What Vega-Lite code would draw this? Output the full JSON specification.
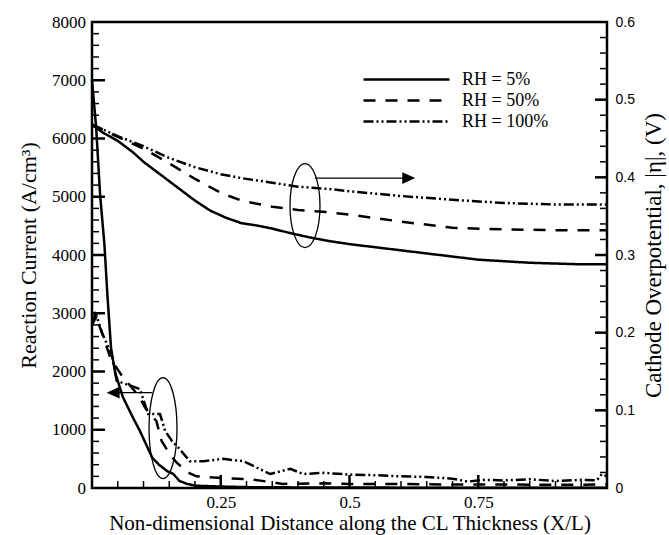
{
  "$schema": "https://vega.github.io/schema/vega-lite/v6.json",
  "width": 515,
  "height": 466,
  "autosize": {"type": "none"},
  "padding": {"left": 92, "top": 22, "right": 62, "bottom": 47},
  "background": "white",
  "config": {
    "view": {"stroke": "black", "strokeWidth": 2.5},
    "font": "Liberation Serif",
    "axis": {"domain": false, "grid": false, "ticks": false, "labelColor": "black", "titleColor": "black", "titleFontWeight": "normal", "labelOverlap": false, "labelFlush": false}
  },
  "resolve": {"scale": {"y": "independent"}},
  "layer": [
    {
      "layer": [
        {
          "data": {"values": [
            {"x": 0, "rh": "RH = 5%", "j": 7000}, {"x": 0.008, "rh": "RH = 5%", "j": 6200}, {"x": 0.016, "rh": "RH = 5%", "j": 5000}, {"x": 0.024, "rh": "RH = 5%", "j": 4200}, {"x": 0.03, "rh": "RH = 5%", "j": 3300}, {"x": 0.037, "rh": "RH = 5%", "j": 2400}, {"x": 0.045, "rh": "RH = 5%", "j": 1980}, {"x": 0.06, "rh": "RH = 5%", "j": 1560}, {"x": 0.08, "rh": "RH = 5%", "j": 1200}, {"x": 0.093, "rh": "RH = 5%", "j": 980}, {"x": 0.105, "rh": "RH = 5%", "j": 750}, {"x": 0.117, "rh": "RH = 5%", "j": 520}, {"x": 0.13, "rh": "RH = 5%", "j": 400}, {"x": 0.146, "rh": "RH = 5%", "j": 290}, {"x": 0.158, "rh": "RH = 5%", "j": 240}, {"x": 0.17, "rh": "RH = 5%", "j": 120}, {"x": 0.185, "rh": "RH = 5%", "j": 70}, {"x": 0.2, "rh": "RH = 5%", "j": 40}, {"x": 0.25, "rh": "RH = 5%", "j": 25}, {"x": 0.3, "rh": "RH = 5%", "j": 15}, {"x": 0.4, "rh": "RH = 5%", "j": 10}, {"x": 0.5, "rh": "RH = 5%", "j": 8}, {"x": 0.6, "rh": "RH = 5%", "j": 6}, {"x": 0.7, "rh": "RH = 5%", "j": 5}, {"x": 0.8, "rh": "RH = 5%", "j": 5}, {"x": 0.9, "rh": "RH = 5%", "j": 5}, {"x": 1.0, "rh": "RH = 5%", "j": 5},
            {"x": 0, "rh": "RH = 50%", "j": 2800}, {"x": 0.006, "rh": "RH = 50%", "j": 2980}, {"x": 0.02, "rh": "RH = 50%", "j": 2650}, {"x": 0.035, "rh": "RH = 50%", "j": 2250}, {"x": 0.045, "rh": "RH = 50%", "j": 2100}, {"x": 0.06, "rh": "RH = 50%", "j": 1900}, {"x": 0.075, "rh": "RH = 50%", "j": 1750}, {"x": 0.093, "rh": "RH = 50%", "j": 1550}, {"x": 0.103, "rh": "RH = 50%", "j": 1380}, {"x": 0.115, "rh": "RH = 50%", "j": 1250}, {"x": 0.125, "rh": "RH = 50%", "j": 1150}, {"x": 0.135, "rh": "RH = 50%", "j": 810}, {"x": 0.151, "rh": "RH = 50%", "j": 580}, {"x": 0.165, "rh": "RH = 50%", "j": 430}, {"x": 0.177, "rh": "RH = 50%", "j": 340}, {"x": 0.19, "rh": "RH = 50%", "j": 250}, {"x": 0.203, "rh": "RH = 50%", "j": 200}, {"x": 0.255, "rh": "RH = 50%", "j": 170}, {"x": 0.307, "rh": "RH = 50%", "j": 150}, {"x": 0.34, "rh": "RH = 50%", "j": 110}, {"x": 0.37, "rh": "RH = 50%", "j": 70}, {"x": 0.45, "rh": "RH = 50%", "j": 80}, {"x": 0.5, "rh": "RH = 50%", "j": 70}, {"x": 0.6, "rh": "RH = 50%", "j": 70}, {"x": 0.7, "rh": "RH = 50%", "j": 60}, {"x": 0.8, "rh": "RH = 50%", "j": 60}, {"x": 0.9, "rh": "RH = 50%", "j": 55}, {"x": 1.0, "rh": "RH = 50%", "j": 60},
            {"x": 0, "rh": "RH = 100%", "j": 2800}, {"x": 0.009, "rh": "RH = 100%", "j": 2950}, {"x": 0.02, "rh": "RH = 100%", "j": 2650}, {"x": 0.038, "rh": "RH = 100%", "j": 2300}, {"x": 0.048, "rh": "RH = 100%", "j": 1840}, {"x": 0.067, "rh": "RH = 100%", "j": 1780}, {"x": 0.093, "rh": "RH = 100%", "j": 1700}, {"x": 0.109, "rh": "RH = 100%", "j": 1270}, {"x": 0.132, "rh": "RH = 100%", "j": 1270}, {"x": 0.142, "rh": "RH = 100%", "j": 980}, {"x": 0.155, "rh": "RH = 100%", "j": 810}, {"x": 0.168, "rh": "RH = 100%", "j": 690}, {"x": 0.19, "rh": "RH = 100%", "j": 460}, {"x": 0.216, "rh": "RH = 100%", "j": 460}, {"x": 0.255, "rh": "RH = 100%", "j": 500}, {"x": 0.294, "rh": "RH = 100%", "j": 460}, {"x": 0.346, "rh": "RH = 100%", "j": 240}, {"x": 0.385, "rh": "RH = 100%", "j": 330}, {"x": 0.41, "rh": "RH = 100%", "j": 240}, {"x": 0.45, "rh": "RH = 100%", "j": 260}, {"x": 0.5, "rh": "RH = 100%", "j": 230}, {"x": 0.55, "rh": "RH = 100%", "j": 220}, {"x": 0.6, "rh": "RH = 100%", "j": 200}, {"x": 0.65, "rh": "RH = 100%", "j": 190}, {"x": 0.7, "rh": "RH = 100%", "j": 160}, {"x": 0.73, "rh": "RH = 100%", "j": 110}, {"x": 0.76, "rh": "RH = 100%", "j": 140}, {"x": 0.8, "rh": "RH = 100%", "j": 130}, {"x": 0.85, "rh": "RH = 100%", "j": 150}, {"x": 0.9, "rh": "RH = 100%", "j": 120}, {"x": 0.95, "rh": "RH = 100%", "j": 140}, {"x": 0.98, "rh": "RH = 100%", "j": 130}, {"x": 0.99, "rh": "RH = 100%", "j": 240}, {"x": 1.0, "rh": "RH = 100%", "j": 200}
          ]},
          "mark": {"type": "line", "color": "black", "strokeWidth": 2.5},
          "encoding": {
            "x": {
              "field": "x", "type": "quantitative",
              "scale": {"domain": [0, 1], "nice": false, "zero": false},
              "axis": {
                "orient": "bottom",
                "title": "Non-dimensional Distance along the CL Thickness (X/L)",
                "values": [0.25, 0.5, 0.75],
                "format": ".2~f",
                "labelPadding": 6,
                "labelFont": "Liberation Serif", "labelFontSize": 17,
                "titleFont": "Liberation Serif", "titleFontSize": 21,
                "titlePadding": 2
              }
            },
            "y": {
              "field": "j", "type": "quantitative",
              "scale": {"domain": [0, 8000], "nice": false, "zero": false},
              "axis": {
                "orient": "left",
                "title": "Reaction Current (A/cm³)",
                "values": [0, 1000, 2000, 3000, 4000, 5000, 6000, 7000, 8000],
                "format": "d",
                "labelPadding": 6.5,
                "labelFont": "Liberation Serif", "labelFontSize": 17,
                "titleFont": "Liberation Serif", "titleFontSize": 22,
                "titlePadding": 11
              }
            },
            "strokeDash": {
              "field": "rh", "type": "nominal",
              "scale": {"domain": ["RH = 5%", "RH = 50%", "RH = 100%"], "range": [[1, 0], [12, 10], [10, 3, 2, 3, 2, 3]]},
              "legend": {
                "orient": "none", "legendX": 270, "legendY": 47,
                "title": null,
                "symbolType": "stroke", "symbolSize": 7396, "symbolStrokeWidth": 2.5, "symbolStrokeColor": "black",
                "labelFont": "Liberation Serif", "labelFontSize": 18, "labelColor": "black",
                "labelOffset": 11, "clipHeight": 21, "rowPadding": 0, "padding": 0
              }
            }
          }
        },
        {
          "data": {"values": [{"x": 0.1379, "j": 1027}]},
          "mark": {"type": "point", "shape": "M0,-1 A0.277,1 0 1,0 0,1 A0.277,1 0 1,0 0,-1 Z", "size": 10201, "filled": false, "stroke": "black", "strokeWidth": 1.3, "opacity": 1},
          "encoding": {"x": {"field": "x", "type": "quantitative"}, "y": {"field": "j", "type": "quantitative"}}
        },
        {
          "data": {"values": [{"x": 0.05, "x2": 0.117, "j": 1636}]},
          "mark": {"type": "rule", "color": "black", "strokeWidth": 1.2},
          "encoding": {"x": {"field": "x", "type": "quantitative"}, "x2": {"field": "x2"}, "y": {"field": "j", "type": "quantitative"}}
        },
        {
          "data": {"values": [{"x": 0.041, "j": 1636}]},
          "mark": {"type": "point", "shape": "M-1,0 L1,-0.9 L1,0.9 Z", "size": 169, "filled": true, "color": "black", "opacity": 1},
          "encoding": {"x": {"field": "x", "type": "quantitative"}, "y": {"field": "j", "type": "quantitative"}}
        },
        {
          "data": {"values": [{"j": 1000}, {"j": 2000}, {"j": 3000}, {"j": 4000}, {"j": 5000}, {"j": 6000}, {"j": 7000}]},
          "mark": {"type": "rule", "color": "black", "strokeWidth": 2.5},
          "encoding": {"x": {"datum": 0, "type": "quantitative"}, "x2": {"datum": 0.0252}, "y": {"field": "j", "type": "quantitative"}}
        },
        {
          "data": {"values": [{"j": 200}, {"j": 400}, {"j": 600}, {"j": 800}, {"j": 1200}, {"j": 1400}, {"j": 1600}, {"j": 1800}, {"j": 2200}, {"j": 2400}, {"j": 2600}, {"j": 2800}, {"j": 3200}, {"j": 3400}, {"j": 3600}, {"j": 3800}, {"j": 4200}, {"j": 4400}, {"j": 4600}, {"j": 4800}, {"j": 5200}, {"j": 5400}, {"j": 5600}, {"j": 5800}, {"j": 6200}, {"j": 6400}, {"j": 6600}, {"j": 6800}, {"j": 7200}, {"j": 7400}, {"j": 7600}, {"j": 7800}]},
          "mark": {"type": "rule", "color": "black", "strokeWidth": 1.5},
          "encoding": {"x": {"datum": 0, "type": "quantitative"}, "x2": {"datum": 0.0136}, "y": {"field": "j", "type": "quantitative"}}
        },
        {
          "data": {"values": [{"x": 0.25}, {"x": 0.5}, {"x": 0.75}]},
          "mark": {"type": "rule", "color": "black", "strokeWidth": 2.5},
          "encoding": {"x": {"field": "x", "type": "quantitative"}, "y": {"datum": 0, "type": "quantitative"}, "y2": {"datum": 223}}
        },
        {
          "data": {"values": [{"x": 0.05}, {"x": 0.1}, {"x": 0.15}, {"x": 0.2}, {"x": 0.3}, {"x": 0.35}, {"x": 0.4}, {"x": 0.45}, {"x": 0.55}, {"x": 0.6}, {"x": 0.65}, {"x": 0.7}, {"x": 0.8}, {"x": 0.85}, {"x": 0.9}, {"x": 0.95}]},
          "mark": {"type": "rule", "color": "black", "strokeWidth": 1.5},
          "encoding": {"x": {"field": "x", "type": "quantitative"}, "y": {"datum": 0, "type": "quantitative"}, "y2": {"datum": 120}}
        }
      ]
    },
    {
      "layer": [
        {
          "data": {"values": [
            {"x": 0, "rh": "RH = 5%", "eta": 0.468}, {"x": 0.02, "rh": "RH = 5%", "eta": 0.458}, {"x": 0.05, "rh": "RH = 5%", "eta": 0.447}, {"x": 0.08, "rh": "RH = 5%", "eta": 0.432}, {"x": 0.1, "rh": "RH = 5%", "eta": 0.42}, {"x": 0.13, "rh": "RH = 5%", "eta": 0.405}, {"x": 0.15, "rh": "RH = 5%", "eta": 0.395}, {"x": 0.18, "rh": "RH = 5%", "eta": 0.38}, {"x": 0.2, "rh": "RH = 5%", "eta": 0.37}, {"x": 0.23, "rh": "RH = 5%", "eta": 0.357}, {"x": 0.26, "rh": "RH = 5%", "eta": 0.348}, {"x": 0.29, "rh": "RH = 5%", "eta": 0.341}, {"x": 0.32, "rh": "RH = 5%", "eta": 0.338}, {"x": 0.35, "rh": "RH = 5%", "eta": 0.334}, {"x": 0.38, "rh": "RH = 5%", "eta": 0.329}, {"x": 0.42, "rh": "RH = 5%", "eta": 0.323}, {"x": 0.46, "rh": "RH = 5%", "eta": 0.318}, {"x": 0.5, "rh": "RH = 5%", "eta": 0.314}, {"x": 0.55, "rh": "RH = 5%", "eta": 0.31}, {"x": 0.6, "rh": "RH = 5%", "eta": 0.306}, {"x": 0.65, "rh": "RH = 5%", "eta": 0.302}, {"x": 0.7, "rh": "RH = 5%", "eta": 0.298}, {"x": 0.75, "rh": "RH = 5%", "eta": 0.294}, {"x": 0.8, "rh": "RH = 5%", "eta": 0.292}, {"x": 0.85, "rh": "RH = 5%", "eta": 0.29}, {"x": 0.9, "rh": "RH = 5%", "eta": 0.289}, {"x": 0.95, "rh": "RH = 5%", "eta": 0.288}, {"x": 1.0, "rh": "RH = 5%", "eta": 0.288},
            {"x": 0, "rh": "RH = 50%", "eta": 0.468}, {"x": 0.05, "rh": "RH = 50%", "eta": 0.452}, {"x": 0.1, "rh": "RH = 50%", "eta": 0.437}, {"x": 0.15, "rh": "RH = 50%", "eta": 0.418}, {"x": 0.2, "rh": "RH = 50%", "eta": 0.398}, {"x": 0.25, "rh": "RH = 50%", "eta": 0.38}, {"x": 0.29, "rh": "RH = 50%", "eta": 0.37}, {"x": 0.35, "rh": "RH = 50%", "eta": 0.362}, {"x": 0.4, "rh": "RH = 50%", "eta": 0.358}, {"x": 0.46, "rh": "RH = 50%", "eta": 0.355}, {"x": 0.5, "rh": "RH = 50%", "eta": 0.352}, {"x": 0.6, "rh": "RH = 50%", "eta": 0.343}, {"x": 0.7, "rh": "RH = 50%", "eta": 0.335}, {"x": 0.8, "rh": "RH = 50%", "eta": 0.333}, {"x": 0.9, "rh": "RH = 50%", "eta": 0.332}, {"x": 1.0, "rh": "RH = 50%", "eta": 0.332},
            {"x": 0, "rh": "RH = 100%", "eta": 0.468}, {"x": 0.05, "rh": "RH = 100%", "eta": 0.453}, {"x": 0.1, "rh": "RH = 100%", "eta": 0.44}, {"x": 0.15, "rh": "RH = 100%", "eta": 0.425}, {"x": 0.2, "rh": "RH = 100%", "eta": 0.413}, {"x": 0.25, "rh": "RH = 100%", "eta": 0.404}, {"x": 0.29, "rh": "RH = 100%", "eta": 0.399}, {"x": 0.35, "rh": "RH = 100%", "eta": 0.393}, {"x": 0.4, "rh": "RH = 100%", "eta": 0.388}, {"x": 0.46, "rh": "RH = 100%", "eta": 0.385}, {"x": 0.5, "rh": "RH = 100%", "eta": 0.382}, {"x": 0.6, "rh": "RH = 100%", "eta": 0.376}, {"x": 0.7, "rh": "RH = 100%", "eta": 0.371}, {"x": 0.8, "rh": "RH = 100%", "eta": 0.367}, {"x": 0.9, "rh": "RH = 100%", "eta": 0.365}, {"x": 1.0, "rh": "RH = 100%", "eta": 0.365}
          ]},
          "mark": {"type": "line", "color": "black", "strokeWidth": 2.5},
          "encoding": {
            "x": {"field": "x", "type": "quantitative"},
            "y": {
              "field": "eta", "type": "quantitative",
              "scale": {"domain": [0, 0.6], "nice": false, "zero": false},
              "axis": {
                "orient": "right",
                "title": "Cathode Overpotential, |η|, (V)",
                "values": [0, 0.1, 0.2, 0.3, 0.4, 0.5, 0.6],
                "format": ".1~f",
                "labelPadding": 8,
                "labelFont": "Liberation Sans", "labelFontSize": 14,
                "titleFont": "Liberation Serif", "titleFontSize": 23,
                "titleAngle": 270, "titleBaseline": "top",
                "titlePadding": 8
              }
            },
            "strokeDash": {
              "field": "rh", "type": "nominal",
              "scale": {"domain": ["RH = 5%", "RH = 50%", "RH = 100%"], "range": [[1, 0], [12, 10], [10, 3, 2, 3, 2, 3]]},
              "legend": {
                "orient": "none", "legendX": 270, "legendY": 47,
                "title": null,
                "symbolType": "stroke", "symbolSize": 7396, "symbolStrokeWidth": 2.5, "symbolStrokeColor": "black",
                "labelFont": "Liberation Serif", "labelFontSize": 18, "labelColor": "black",
                "labelOffset": 11, "clipHeight": 21, "rowPadding": 0, "padding": 0
              }
            }
          }
        },
        {
          "data": {"values": [{"x": 0.4136, "eta": 0.3635}]},
          "mark": {"type": "point", "shape": "M0,-1 A0.357,1 0 1,0 0,1 A0.357,1 0 1,0 0,-1 Z", "size": 7056, "filled": false, "stroke": "black", "strokeWidth": 1.3, "opacity": 1},
          "encoding": {"x": {"field": "x", "type": "quantitative"}, "y": {"field": "eta", "type": "quantitative"}}
        },
        {
          "data": {"values": [{"x": 0.433, "x2": 0.605, "eta": 0.399}]},
          "mark": {"type": "rule", "color": "black", "strokeWidth": 1.2},
          "encoding": {"x": {"field": "x", "type": "quantitative"}, "x2": {"field": "x2"}, "y": {"field": "eta", "type": "quantitative"}}
        },
        {
          "data": {"values": [{"x": 0.615, "eta": 0.399}]},
          "mark": {"type": "point", "shape": "M1,0 L-1,-0.9 L-1,0.9 Z", "size": 169, "filled": true, "color": "black", "opacity": 1},
          "encoding": {"x": {"field": "x", "type": "quantitative"}, "y": {"field": "eta", "type": "quantitative"}}
        },
        {
          "data": {"values": [{"eta": 0.1}, {"eta": 0.2}, {"eta": 0.3}, {"eta": 0.4}, {"eta": 0.5}]},
          "mark": {"type": "rule", "color": "black", "strokeWidth": 2.5},
          "encoding": {"x": {"datum": 1, "type": "quantitative"}, "x2": {"datum": 0.9767}, "y": {"field": "eta", "type": "quantitative"}}
        },
        {
          "data": {"values": [{"eta": 0.02}, {"eta": 0.04}, {"eta": 0.06}, {"eta": 0.08}, {"eta": 0.12}, {"eta": 0.14}, {"eta": 0.16}, {"eta": 0.18}, {"eta": 0.22}, {"eta": 0.24}, {"eta": 0.26}, {"eta": 0.28}, {"eta": 0.32}, {"eta": 0.34}, {"eta": 0.36}, {"eta": 0.38}, {"eta": 0.42}, {"eta": 0.44}, {"eta": 0.46}, {"eta": 0.48}, {"eta": 0.52}, {"eta": 0.54}, {"eta": 0.56}, {"eta": 0.58}]},
          "mark": {"type": "rule", "color": "black", "strokeWidth": 1.5},
          "encoding": {"x": {"datum": 1, "type": "quantitative"}, "x2": {"datum": 0.9864}, "y": {"field": "eta", "type": "quantitative"}}
        }
      ]
    }
  ]
}
